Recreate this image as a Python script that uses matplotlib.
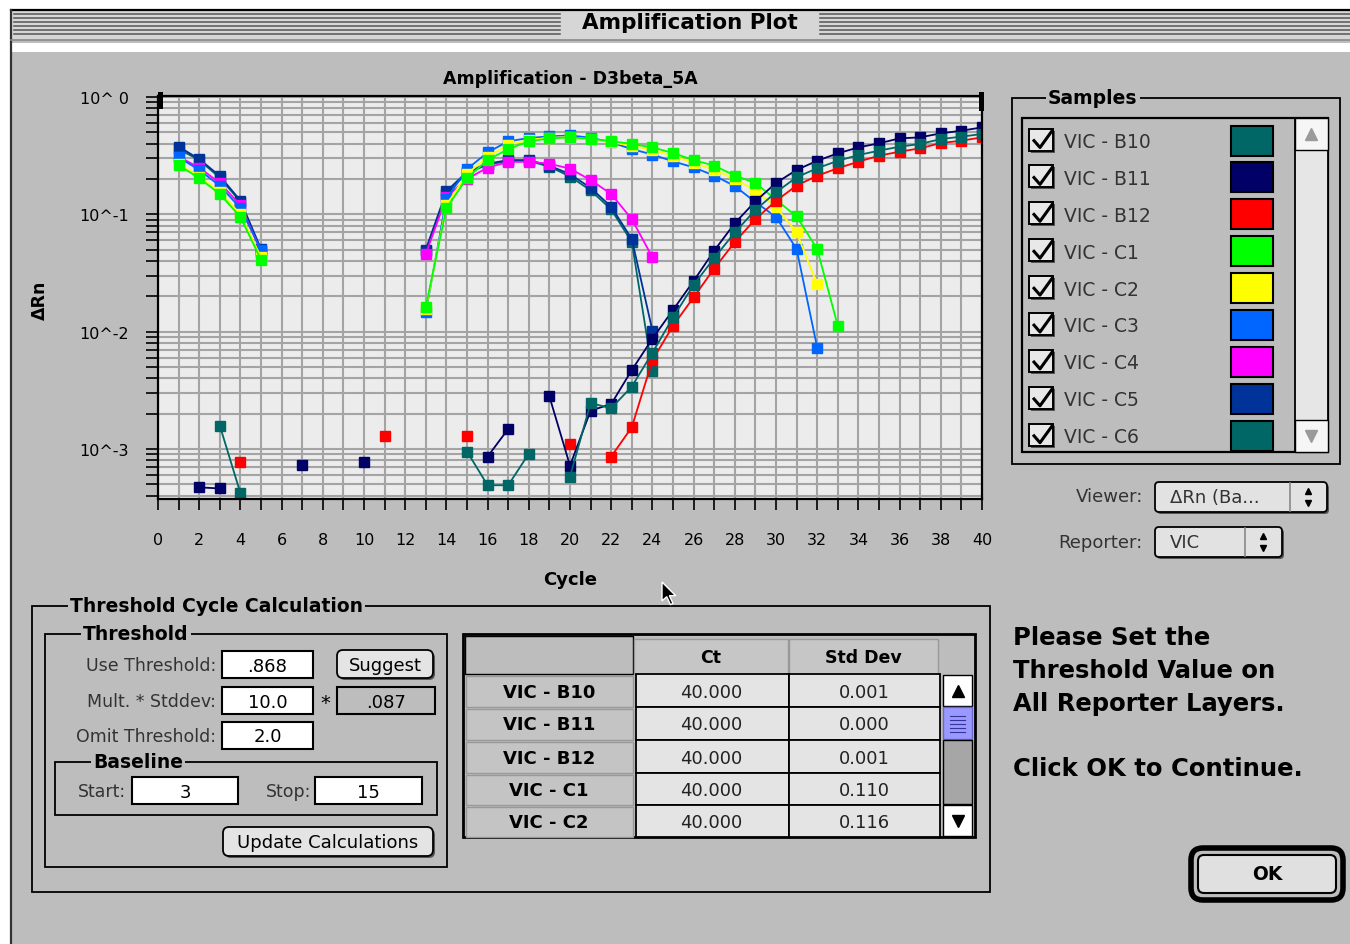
import matplotlib.pyplot as plt
import numpy as np
from matplotlib.patches import Rectangle, FancyBboxPatch, Polygon
from matplotlib.ticker import LogLocator, NullFormatter

nan = np.nan

# --- data -------------------------------------------------------------
cycles = np.arange(1, 41)

# delta Rn per cycle, nan where nothing is plotted
vic_b10 = [nan, nan, 1.58e-3, 4.2e-4, nan, nan, nan, nan, nan, nan,
           nan, nan, nan, nan, 9.5e-4, 4.9e-4, 4.9e-4, 9.1e-4, nan, 5.8e-4,
           2.46e-3, 2.22e-3, 3.4e-3, 6.6e-3, 0.0132, 0.025, 0.0424, 0.070, 0.109, 0.154,
           0.207, 0.247, 0.286, 0.320, 0.349, 0.377, 0.398, 0.438, 0.459, 0.484]
vic_b11 = [nan, 4.7e-4, 4.6e-4, nan, nan, nan, 7.3e-4, nan, nan, 7.8e-4,
           nan, nan, nan, nan, nan, 8.6e-4, 1.48e-3, nan, 2.8e-3, 7.2e-4,
           2.12e-3, 2.41e-3, 4.7e-3, 8.7e-3, 0.0153, 0.027, 0.049, 0.084, 0.129, 0.185,
           0.239, 0.286, 0.331, 0.372, 0.403, 0.444, 0.453, 0.490, 0.516, 0.551]
vic_b12 = [nan, nan, nan, 7.8e-4, nan, nan, nan, nan, nan, nan,
           1.3e-3, nan, nan, nan, 1.3e-3, nan, nan, nan, nan, 1.1e-3,
           nan, 8.6e-4, 1.53e-3, 5.7e-3, 0.0112, 0.0196, 0.0345, 0.058, 0.091, 0.130,
           0.176, 0.213, 0.247, 0.281, 0.316, 0.342, 0.365, 0.405, 0.424, 0.453]
vic_c1 = [0.263, 0.203, 0.149, 0.095, 0.041, nan, nan, nan, nan, nan,
          nan, nan, 0.0163, 0.113, 0.204, 0.290, 0.360, 0.419, 0.444, 0.453,
          0.440, 0.420, 0.398, 0.372, 0.333, 0.290, 0.260, 0.214, 0.185, 0.133,
          0.096, 0.0506, 0.0112, nan, nan, nan, nan, nan, nan, nan]
vic_c2 = [0.270, 0.210, 0.155, 0.100, 0.043, nan, nan, nan, nan, nan,
          nan, nan, 0.0155, 0.120, 0.220, 0.310, 0.390, 0.430, 0.450, 0.455,
          0.435, 0.410, 0.385, 0.355, 0.315, 0.275, 0.240, 0.200, 0.160, 0.115,
          0.070, 0.0253, nan, nan, nan, nan, nan, nan, nan, nan]
vic_c3 = [0.306, 0.239, 0.175, 0.113, 0.050, nan, nan, nan, nan, nan,
          nan, nan, 0.0146, 0.135, 0.243, 0.337, 0.419, 0.447, 0.462, 0.470,
          0.450, 0.410, 0.360, 0.323, 0.283, 0.251, 0.214, 0.174, 0.127, 0.095,
          0.0506, 0.0073, nan, nan, nan, nan, nan, nan, nan, nan]
vic_c4 = [0.310, 0.250, 0.185, 0.120, 0.048, nan, nan, nan, nan, nan,
          nan, nan, 0.046, 0.140, 0.200, 0.250, 0.280, 0.280, 0.270, 0.245,
          0.196, 0.149, 0.091, 0.043, nan, nan, nan, nan, nan, nan,
          nan, nan, nan, nan, nan, nan, nan, nan, nan, nan]
vic_c5 = [0.377, 0.296, 0.212, 0.131, 0.0506, nan, nan, nan, nan, nan,
          nan, nan, 0.050, 0.157, 0.230, 0.270, 0.290, 0.290, 0.260, 0.220,
          0.168, 0.116, 0.0616, 0.0102, nan, nan, nan, nan, nan, nan,
          nan, nan, nan, nan, nan, nan, nan, nan, nan, nan]
vic_c6 = [0.360, 0.290, 0.205, 0.128, 0.049, nan, nan, nan, nan, nan,
          nan, nan, 0.049, 0.150, 0.225, 0.265, 0.285, 0.285, 0.255, 0.210,
          0.160, 0.110, 0.058, 0.0046, nan, nan, nan, nan, nan, nan,
          nan, nan, nan, nan, nan, nan, nan, nan, nan, nan]

sample_names = ["VIC - B10", "VIC - B11", "VIC - B12", "VIC - C1", "VIC - C2",
                "VIC - C3", "VIC - C4", "VIC - C5", "VIC - C6"]
sample_colors = ["#006666", "#000066", "#ff0000", "#00ff00", "#ffff00",
                 "#0066ff", "#ff00ff", "#003399", "#006666"]
sample_values = [vic_b10, vic_b11, vic_b12, vic_c1, vic_c2,
                 vic_c3, vic_c4, vic_c5, vic_c6]

ytick_values = [1, 0.1, 0.01, 0.001]
ytick_labels = ["10^ 0", "10^-1", "10^-2", "10^-3"]

table_rows = ["VIC - B10", "VIC - B11", "VIC - B12", "VIC - C1", "VIC - C2"]
table_ct = [40.000, 40.000, 40.000, 40.000, 40.000]
table_std = [0.001, 0.000, 0.001, 0.110, 0.116]

message_lines = ["Please Set the", "Threshold Value on", "All Reporter Layers.",
                 "", "Click OK to Continue."]

GRAY = "#bdbdbd"
PLOT_BG = "#ececec"
GRID = "#a4a4a4"

plt.rcParams["font.family"] = ["DejaVu Sans"]

fig = plt.figure(figsize=(13.5, 9.45), dpi=100, facecolor=GRAY)

# --- amplification plot ----------------------------------------------
ax = fig.add_axes([158 / 1350, 1 - 500 / 945, 824 / 1350, 403 / 945], zorder=1)
ax.set_facecolor(PLOT_BG)
ax.set_yscale("log")
ax.set_xlim(0, 40)
ax.set_ylim(3.74e-4, 1.02)

ax.set_xticks(np.arange(0, 41, 2))
ax.set_xticks(np.arange(0, 41, 1), minor=True)
ax.set_yticks(ytick_values, labels=ytick_labels)
ax.yaxis.set_minor_locator(LogLocator(base=10, subs=np.arange(2, 10)))
ax.yaxis.set_minor_formatter(NullFormatter())

ax.grid(which="both", color=GRID, lw=1.5)
ax.set_axisbelow(True)
ax.tick_params(axis="x", which="both", direction="out", length=8, width=1.2,
               labelsize=11.5, pad=16)
ax.tick_params(axis="y", which="both", direction="out", length=9, width=1.2,
               labelsize=11.5, pad=12)
for side in ["left", "bottom", "top", "right"]:
    ax.spines[side].set_color("black")
    ax.spines[side].set_linewidth(1.6)

# later samples first so B10 ends on top
for vals, col in reversed(list(zip(sample_values, sample_colors))):
    ax.plot(cycles, vals, "-s", color=col, mec=col, ms=6.5, lw=1.3)

# --- dialog chrome ---------------------------------------------------
ui = fig.add_axes([0, 0, 1, 1], zorder=3)
ui.set_xlim(0, 1350)
ui.set_ylim(945, 0)
ui.axis("off")


def rect(x0, y0, x1, y1, fc="none", ec="black", lw=1.2, z=2):
    ui.add_patch(Rectangle((x0, y0), x1 - x0, y1 - y0, facecolor=fc,
                           edgecolor=ec, linewidth=lw, zorder=z))


def rbox(x0, y0, x1, y1, fc="#e2e2e2", ec="black", lw=1.2, r=4, z=2):
    ui.add_patch(FancyBboxPatch((x0, y0), x1 - x0, y1 - y0,
                                boxstyle=f"round,pad=0,rounding_size={r}",
                                facecolor=fc, edgecolor=ec, linewidth=lw, zorder=z))


def group(x0, y0, x1, y1, title, tx, size=13.5):
    rect(x0, y0, x1, y1, lw=1.3)
    ui.text(tx, y0, title, fontsize=size, fontweight="bold", va="center",
            ha="left", zorder=4,
            bbox=dict(facecolor=GRAY, edgecolor="none", pad=1.5))


def field(x0, y0, x1, y1, text, fc="white"):
    rect(x0, y0, x1, y1, fc=fc, lw=1.5)
    ui.text((x0 + x1) / 2, (y0 + y1) / 2 + 1, text, fontsize=13,
            ha="center", va="center", zorder=4)


def button(x0, y0, x1, y1, text, size=13):
    rbox(x0 + 2, y0 + 2, x1 + 2, y1 + 2, fc="#555555", ec="none", r=6)
    rbox(x0, y0, x1, y1, fc="#e4e4e4", lw=1.3, r=6, z=3)
    ui.text((x0 + x1) / 2, (y0 + y1) / 2 + 1, text, fontsize=size,
            ha="center", va="center", zorder=4)


# window frame and striped title bar
rect(0, 0, 1350, 11, fc="white", ec="none")
rect(0, 0, 11, 945, fc="white", ec="none")
rect(11, 11, 1350, 41, fc="#d6d6d6", ec="none")
for yy in [15, 19, 23, 27, 31, 35]:
    ui.plot([14, 560], [yy, yy], color="#555555", lw=1.1, zorder=3)
    ui.plot([820, 1350], [yy, yy], color="#555555", lw=1.1, zorder=3)
ui.plot([11, 1350], [11, 11], color="black", lw=1.6, zorder=3)
ui.plot([11, 11], [11, 945], color="#333333", lw=1.6, zorder=3)
ui.plot([11, 1350], [41, 41], color="#8a8a8a", lw=1.2, zorder=3)
rect(12, 44, 1350, 53, fc="white", ec="none")
ui.text(690, 23, "Amplification Plot", fontsize=15.5, fontweight="bold",
        ha="center", va="center", zorder=4)

# plot captions
ui.text(570, 79, "Amplification - D3beta_5A", fontsize=12.5, fontweight="bold",
        ha="center", va="center")
ui.text(570, 580, "Cycle", fontsize=13, fontweight="bold", ha="center", va="center")
ui.text(40, 300, "\u0394Rn", fontsize=12.5, fontweight="bold", rotation=90,
        ha="center", va="center")
rect(158, 93, 163, 110, fc="black", ec="none", z=4)
rect(979, 93, 984, 112, fc="black", ec="none", z=4)

# mouse pointer
arrow = np.array([[0, 0], [0, 18], [4.5, 14], [8, 21.5], [10.5, 20.5],
                  [7, 13], [13, 13]]) * 1.05 + np.array([662, 583])
ui.add_patch(Polygon(arrow, closed=True, facecolor="black", edgecolor="white",
                     linewidth=1.0, zorder=6))

# samples list
group(1012, 99, 1340, 465, "Samples", 1048)
rect(1022, 119, 1328, 453, lw=1.6)
rect(1295, 119, 1328, 453, fc="#e6e6e6", lw=1.3)
rect(1295, 119, 1328, 151, fc="#f6f6f6", lw=1.0)
rect(1295, 421, 1328, 453, fc="#f6f6f6", lw=1.0)
ui.plot([1311], [135], marker="^", color="#9a9a9a", ms=9, zorder=4)
ui.plot([1311], [437], marker="v", color="#9a9a9a", ms=9, zorder=4)
for i, (name, col) in enumerate(zip(sample_names, sample_colors)):
    yc = 141.5 + 36.9 * i
    rect(1031, yc - 10, 1055, yc + 12, fc="#555555", ec="none")
    rect(1029, yc - 12, 1053, yc + 10, fc="#e8e8e8", lw=1.4, z=3)
    ui.plot([1033, 1040, 1053], [yc - 1, yc + 7, yc - 11], color="black",
            lw=2.2, zorder=4, solid_capstyle="butt")
    ui.text(1064, yc + 1, name, fontsize=13.5, color="#333333",
            ha="left", va="center")
    rect(1231, yc - 15, 1273, yc + 15, fc=col, lw=1.5)

# viewer / reporter popups
ui.text(1143, 497, "Viewer:", fontsize=13, color="#333333", ha="right", va="center")
rbox(1157, 485, 1329, 515, fc="#555555", ec="none")
rbox(1155, 483, 1327, 513, lw=1.3, z=3)
ui.plot([1290, 1290], [484, 512], color="#888888", lw=1.2, zorder=4)
ui.text(1170, 498, "\u0394Rn (Ba...", fontsize=13, color="#333333",
        ha="left", va="center", zorder=4)
ui.plot([1308], [492], marker="^", color="black", ms=5, zorder=4)
ui.plot([1308], [504], marker="v", color="black", ms=5, zorder=4)

ui.text(1143, 543, "Reporter:", fontsize=13, color="#333333", ha="right", va="center")
rbox(1157, 530, 1284, 560, fc="#555555", ec="none")
rbox(1155, 528, 1282, 558, lw=1.3, z=3)
ui.plot([1245, 1245], [529, 557], color="#888888", lw=1.2, zorder=4)
ui.text(1170, 543, "VIC", fontsize=13, color="#333333", ha="left", va="center",
        zorder=4)
ui.plot([1263], [537], marker="^", color="black", ms=5, zorder=4)
ui.plot([1263], [549], marker="v", color="black", ms=5, zorder=4)

# threshold cycle calculation panel
group(32, 607, 990, 893, "Threshold Cycle Calculation", 70)
group(45, 635, 447, 868, "Threshold", 83)
ui.text(216, 666, "Use Threshold:", fontsize=12.5, color="#333333", ha="right", va="center")
ui.text(216, 702, "Mult. * Stddev:", fontsize=12.5, color="#333333", ha="right", va="center")
ui.text(216, 737, "Omit Threshold:", fontsize=12.5, color="#333333", ha="right", va="center")
field(222, 652, 313, 679, ".868")
field(222, 688, 313, 715, "10.0")
field(222, 723, 313, 750, "2.0")
ui.text(325, 703, "*", fontsize=14, ha="center", va="center")
field(337, 688, 435, 715, ".087", fc=GRAY)
button(337, 651, 433, 679, "Suggest")

group(55, 763, 437, 816, "Baseline", 93)
ui.text(126, 792, "Start:", fontsize=12.5, color="#333333", ha="right", va="center")
field(132, 778, 238, 805, "3")
ui.text(311, 792, "Stop:", fontsize=12.5, color="#333333", ha="right", va="center")
field(315, 778, 422, 805, "15")
button(223, 828, 433, 857, "Update Calculations")

# Ct table
rect(463, 635, 975, 838, lw=2.0)
rect(465, 637, 633, 675, fc=GRAY, lw=1.0)
rect(634, 640, 788, 675, fc="#c6c6c6", ec="#999999", lw=1.0)
rect(789, 640, 938, 675, fc="#c6c6c6", ec="#999999", lw=1.0)
ui.text(711, 658, "Ct", fontsize=12.5, fontweight="bold", ha="center", va="center", zorder=4)
ui.text(863, 658, "Std Dev", fontsize=12.5, fontweight="bold", ha="center", va="center", zorder=4)
row_edges = [675, 708, 741, 774, 806, 838]
for i, (name, ct, sd) in enumerate(zip(table_rows, table_ct, table_std)):
    y0, y1 = row_edges[i], row_edges[i + 1]
    rect(466, y0 + 2, 633, y1, fc="#c4c4c4", ec="#999999", lw=1.0)
    ui.text(549, (y0 + y1) / 2 + 1, name, fontsize=13, fontweight="bold",
            ha="center", va="center", zorder=4)
    rect(636, y0, 789, y1, fc="#e4e4e4", lw=1.3)
    rect(789, y0, 940, y1, fc="#e4e4e4", lw=1.3)
    ui.text(711, (y0 + y1) / 2 + 1, f"{ct:.3f}", fontsize=13, color="#222222",
            ha="center", va="center", zorder=4)
    ui.text(864, (y0 + y1) / 2 + 1, f"{sd:.3f}", fontsize=13, color="#222222",
            ha="center", va="center", zorder=4)
rect(943, 676, 972, 707, fc="white", lw=1.0)
rect(943, 708, 972, 740, fc="#9999ff", ec="#6666cc", lw=1.0)
for yy in [717, 721, 725, 729, 733]:
    ui.plot([950, 965], [yy, yy], color="#333399", lw=0.8, zorder=4)
rect(943, 741, 972, 805, fc="#a6a6a6", lw=1.0)
rect(943, 806, 972, 837, fc="white", lw=1.0)
ui.plot([957.5], [692], marker="^", color="black", ms=8, zorder=4)
ui.plot([957.5], [822], marker="v", color="black", ms=8, zorder=4)

# prompt and OK button
for i, line in enumerate(message_lines):
    ui.text(1013, 638 + 32.8 * i, line, fontsize=17.5, fontweight="bold",
            ha="left", va="center")
rbox(1191, 849, 1343, 901, fc="none", lw=4.0, r=12)
rbox(1198, 856, 1336, 894, fc="#e0e0e0", lw=1.5, r=6, z=3)
ui.text(1267, 875, "OK", fontsize=13.5, fontweight="bold", ha="center", va="center",
        zorder=4)

fig.savefig("out.png", dpi=100, facecolor=GRAY)
